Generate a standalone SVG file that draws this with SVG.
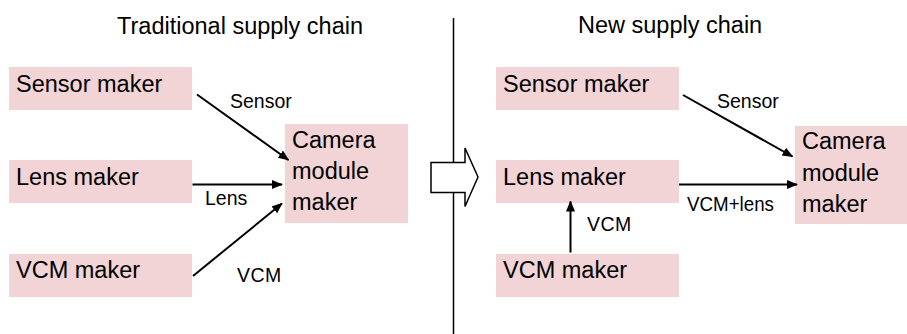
<svg xmlns="http://www.w3.org/2000/svg" width="907" height="334" viewBox="0 0 907 334">
<defs>
<marker id="ah" markerUnits="userSpaceOnUse" markerWidth="11" markerHeight="10" refX="10" refY="4.5" orient="auto">
<path d="M0,0 L11,4.5 L0,9 z" fill="#000"/>
</marker>
<style>
.box{fill:#F2D3D6;stroke:none}
.t{font-family:"Liberation Sans",Arial,sans-serif;font-size:23.5px;fill:#000}
.s{font-family:"Liberation Sans",Arial,sans-serif;font-size:19.5px;fill:#000}
.c{stroke:#000;stroke-width:2;fill:none;marker-end:url(#ah)}
</style>
</defs>
<rect width="907" height="334" fill="#fff"/>
<text class="t" x="117" y="34">Traditional supply chain</text>
<text class="t" x="578" y="33">New supply chain</text>
<line x1="453.5" y1="18" x2="453.5" y2="334" stroke="#000" stroke-width="1.5"/>
<path id="bigarrow" d="M431,162.5 L465,162.5 L465,148 L478,177 L465,206.5 L465,192.5 L431,192.5 z" fill="#fff" stroke="#000" stroke-width="1.5"/>
<g id="l-sensor"><rect class="box" x="9" y="67" width="183" height="43"/><text class="t" x="16" y="92">Sensor maker</text></g>
<g id="l-lens"><rect class="box" x="9" y="160" width="183" height="43"/><text class="t" x="16" y="185">Lens maker</text></g>
<g id="l-vcm"><rect class="box" x="9" y="254" width="183" height="43"/><text class="t" x="16" y="278">VCM maker</text></g>
<g id="l-camera"><rect class="box" x="285" y="124" width="123" height="99"/><text class="t" x="292" y="148">Camera</text><text class="t" x="292" y="179">module</text><text class="t" x="292" y="210">maker</text></g>
<g id="r-sensor"><rect class="box" x="496" y="67" width="183" height="43"/><text class="t" x="503" y="92">Sensor maker</text></g>
<g id="r-lens"><rect class="box" x="496" y="160" width="183" height="43"/><text class="t" x="503" y="185">Lens maker</text></g>
<g id="r-vcm"><rect class="box" x="496" y="254" width="183" height="43"/><text class="t" x="503" y="278">VCM maker</text></g>
<g id="r-camera"><rect class="box" x="795" y="126" width="112" height="98"/><text class="t" x="802" y="149">Camera</text><text class="t" x="802" y="181">module</text><text class="t" x="802" y="212">maker</text></g>
<g id="connectors">
<line class="c" x1="197" y1="94.5" x2="288.5" y2="160"/>
<line class="c" x1="192.5" y1="184.5" x2="282" y2="184.5"/>
<line class="c" x1="193" y1="276" x2="282" y2="203.5"/>
<line class="c" x1="683" y1="95" x2="792.5" y2="156.5"/>
<line class="c" x1="679" y1="184.5" x2="797" y2="184.5"/>
<line class="c" x1="570.5" y1="252.5" x2="570.5" y2="201.5"/>
<text class="s" x="230" y="108">Sensor</text>
<text class="s" x="205" y="205">Lens</text>
<text class="s" x="237" y="282" letter-spacing="0.5">VCM</text>
<text class="s" x="717" y="108">Sensor</text>
<text class="s" x="687" y="211" textLength="87" lengthAdjust="spacingAndGlyphs">VCM+lens</text>
<text class="s" x="587" y="231" letter-spacing="0.5">VCM</text>
</g>
</svg>
